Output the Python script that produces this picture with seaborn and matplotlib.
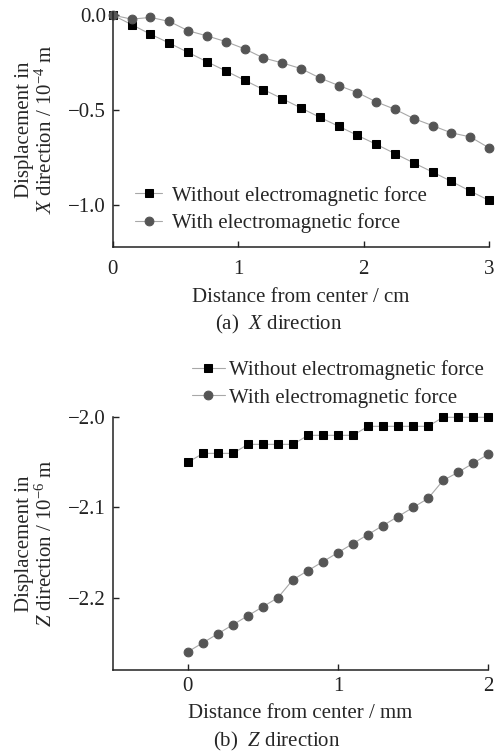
import numpy as np
import pandas as pd
import matplotlib
matplotlib.use("Agg")
import matplotlib.pyplot as plt
from matplotlib.ticker import FuncFormatter
import seaborn as sns

# Panel (a): displacement in X direction (10^-4 m) vs distance from center (cm)
x_dist_cm = [0.0, 0.15, 0.3, 0.45, 0.6, 0.75, 0.9, 1.05, 1.2, 1.35, 1.5,
             1.65, 1.8, 1.95, 2.1, 2.25, 2.4, 2.55, 2.7, 2.85, 3.0]
x_without = [0.0, -0.05, -0.10, -0.147, -0.196, -0.245, -0.293, -0.342, -0.391,
             -0.439, -0.488, -0.537, -0.584, -0.632, -0.679, -0.728, -0.777,
             -0.825, -0.874, -0.925, -0.974]
x_with = [0.0, -0.021, -0.012, -0.033, -0.082, -0.109, -0.139, -0.177, -0.225,
          -0.251, -0.281, -0.33, -0.37, -0.407, -0.456, -0.495, -0.544, -0.581,
          -0.619, -0.64, -0.698]

# Panel (b): displacement in Z direction (10^-6 m) vs distance from center (mm)
z_dist_mm = [0.0, 0.1, 0.2, 0.3, 0.4, 0.5, 0.6, 0.7, 0.8, 0.9, 1.0,
             1.1, 1.2, 1.3, 1.4, 1.5, 1.6, 1.7, 1.8, 1.9, 2.0]
z_without = [-2.05, -2.04, -2.04, -2.04, -2.03, -2.03, -2.03, -2.03, -2.02,
             -2.02, -2.02, -2.02, -2.01, -2.01, -2.01, -2.01, -2.01, -2.00,
             -2.00, -2.00, -2.00]
z_with = [-2.26, -2.25, -2.24, -2.23, -2.22, -2.21, -2.20, -2.18, -2.17, -2.16,
          -2.15, -2.14, -2.13, -2.12, -2.11, -2.10, -2.09, -2.07, -2.061,
          -2.051, -2.041]

labels = ["Without electromagnetic force", "With electromagnetic force"]

sns.set_theme(style="ticks")
plt.rcParams["font.family"] = ["Liberation Serif", "DejaVu Serif"]
plt.rcParams["mathtext.fontset"] = "custom"
plt.rcParams["mathtext.rm"] = "Liberation Serif"
plt.rcParams["mathtext.it"] = "Liberation Serif:italic"

FS = 15
fig = plt.figure(figsize=(4.95, 7.56), dpi=100)
ax1 = fig.add_axes([0.228, 0.673, 0.760, 0.311])
ax2 = fig.add_axes([0.228, 0.114, 0.758, 0.334])

line_col = "#a8a8a8"
sq_col = "#000000"
ci_col = "#555555"


def fmt1(v, _pos):
    s = f"{v:.1f}"
    if s == "-0.0":
        s = "0.0"
    return s.replace("-", "\u2212")


def draw(ax, x, y_sq, y_ci):
    sns.lineplot(x=x, y=y_sq, ax=ax, color=line_col, lw=0.8, marker="s",
                 markersize=5.5, markerfacecolor=sq_col, markeredgecolor=sq_col,
                 label=labels[0], clip_on=False)
    sns.lineplot(x=x, y=y_ci, ax=ax, color=line_col, lw=0.8, marker="o",
                 markersize=6.3, markerfacecolor=ci_col, markeredgecolor=ci_col,
                 label=labels[1], clip_on=False)


draw(ax1, x_dist_cm, x_without, x_with)
draw(ax2, z_dist_mm, z_without, z_with)

for ax in (ax1, ax2):
    sns.despine(ax=ax)
    for s in ("left", "bottom"):
        ax.spines[s].set_linewidth(1.1)
        ax.spines[s].set_color("#222222")
    ax.tick_params(direction="in", length=4, width=1.0, labelsize=FS,
                   colors="#222222", pad=5)
    ax.yaxis.set_major_formatter(FuncFormatter(fmt1))

# Panel (a) axes
ax1.set_xlim(0, 3)
ax1.set_ylim(-1.22, 0.016)
ax1.set_xticks([0, 1, 2, 3])
ax1.set_yticks([0.0, -0.5, -1.0])
ax1.tick_params(axis="x", pad=9)
ax1.set_xlabel("Distance from center / cm", fontsize=FS, labelpad=7)
ax1.set_ylabel("Displacement in\n$X$ direction / 10$^{-4}$ m", fontsize=FS,
               labelpad=8, linespacing=1.1)
ax1.legend(loc="upper left", bbox_to_anchor=(0.252, 0.768),
           bbox_transform=fig.transFigure, frameon=False, fontsize=FS,
           borderpad=0, handlelength=1.3, handletextpad=0.45, labelspacing=0.35)

# Panel (b) axes
ax2.set_xlim(-0.5, 2.0)
ax2.set_ylim(-2.28, -2.0)
ax2.set_xticks([0, 1, 2])
ax2.set_yticks([-2.0, -2.1, -2.2])
ax2.set_xlabel("Distance from center / mm", fontsize=FS, labelpad=6)
ax2.set_ylabel("Displacement in\n$Z$ direction / 10$^{-6}$ m", fontsize=FS,
               labelpad=8, linespacing=1.1)
ax2.legend(loc="upper left", bbox_to_anchor=(0.366, 0.537),
           bbox_transform=fig.transFigure, frameon=False, fontsize=FS,
           borderpad=0, handlelength=1.6, handletextpad=0.2, labelspacing=0.35)

# Sub-figure captions
fig.text(0.563, 1 - 324 / 756, "(a)  $X$ direction", ha="center", va="center",
         fontsize=FS)
fig.text(0.56, 1 - 741 / 756, "(b)  $Z$ direction", ha="center", va="center",
         fontsize=FS)

fig.savefig("out.png", dpi=100)
